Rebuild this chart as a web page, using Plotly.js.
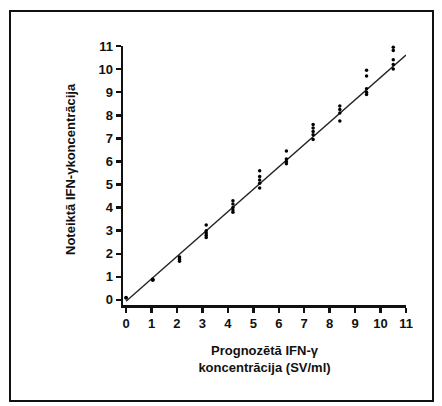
<!DOCTYPE html>
<html>
<head>
<meta charset="utf-8">
<script src="https://cdn.plot.ly/plotly-3.0.1.min.js"></script>
<style>
  html, body { margin: 0; padding: 0; background: #fff; }
  #wrap { position: relative; width: 442px; height: 406px; }
  #frame { position: absolute; left: 9px; top: 10px; width: 421px; height: 388px;
           border: 2px solid #111; pointer-events: none; z-index: 5; }
  #chart { position: absolute; left: 0; top: 0; width: 442px; height: 406px; }
</style>
</head>
<body>
<div id="wrap">
  <div id="chart"></div>
  <div id="frame"></div>
</div>
<script>
// Predicted IFN-γ standard concentrations (SV/ml)
const predicted = [0, 1.05, 2.1, 3.15, 4.2, 5.25, 6.3, 7.35, 8.4, 9.45, 10.5];

// Measured replicates for each predicted level
const measured = [
  [0.1, 0.08],
  [0.85, 0.88, 0.9],
  [1.68, 1.75, 1.82, 1.86],
  [2.7, 2.8, 2.9, 3.0, 3.25],
  [3.8, 3.9, 4.0, 4.15, 4.3],
  [4.85, 5.05, 5.2, 5.35, 5.6],
  [5.9, 6.0, 6.1, 6.45],
  [6.95, 7.15, 7.3, 7.45, 7.6],
  [7.75, 8.1, 8.25, 8.4],
  [8.9, 9.0, 9.15, 9.7, 9.95],
  [10.0, 10.2, 10.4, 10.8, 10.95, 11.05]
];

// Linear fit of measured vs predicted
const fitSlope = 0.97;
const fitIntercept = -0.06;

const tickVals = [0, 1, 2, 3, 4, 5, 6, 7, 8, 9, 10, 11];
const xTitle = '<b>Prognozētā IFN-γ<br>koncentrācija (SV/ml)</b>';
const yTitle = '<b>Noteiktā IFN-γkoncentrācija</b>';

// Flatten replicates into x/y pairs
const xs = [], ys = [];
predicted.forEach((p, i) => measured[i].forEach(v => { xs.push(p); ys.push(v); }));

const xMax = tickVals[tickVals.length - 1];
const fitX = [0, xMax];
const fitY = fitX.map(x => fitIntercept + fitSlope * x);

const font = { family: 'Arial, "Liberation Sans", sans-serif', color: '#111' };

const traces = [
  {
    x: fitX, y: fitY, type: 'scatter', mode: 'lines',
    line: { color: '#222', width: 1.4 }, hoverinfo: 'skip'
  },
  {
    x: xs, y: ys, type: 'scatter', mode: 'markers',
    marker: { color: '#000', size: 3.5, symbol: 'circle' },
    cliponaxis: false
  }
];

const axisCommon = {
  showgrid: false, zeroline: false, showline: true,
  linecolor: '#111', linewidth: 2.5,
  ticks: 'outside', ticklen: 5, tickwidth: 2.5, tickcolor: '#111',
  tickvals: tickVals, ticktext: tickVals.map(v => '<b>' + v + '</b>'),
  tickfont: Object.assign({ size: 13 }, font),
  fixedrange: true
};

const layout = {
  width: 442, height: 406,
  margin: { l: 123, r: 36, t: 46, b: 101 },
  paper_bgcolor: '#fff', plot_bgcolor: '#fff',
  showlegend: false,
  xaxis: Object.assign({}, axisCommon, {
    range: [-0.12, 11],
    ticklabelstandoff: 0,
    title: { text: xTitle, standoff: 16,
             font: Object.assign({ size: 13 }, font) }
  }),
  yaxis: Object.assign({}, axisCommon, {
    range: [-0.22, 11]
  }),
  annotations: [{
    text: yTitle, textangle: -90, showarrow: false,
    xref: 'paper', yref: 'paper', xanchor: 'center', yanchor: 'middle',
    x: -53 / 283, y: (305 - 169) / 259,
    font: Object.assign({ size: 13 }, font)
  }]
};

Plotly.newPlot('chart', traces, layout, { staticPlot: true, displayModeBar: false });
</script>
</body>
</html>
